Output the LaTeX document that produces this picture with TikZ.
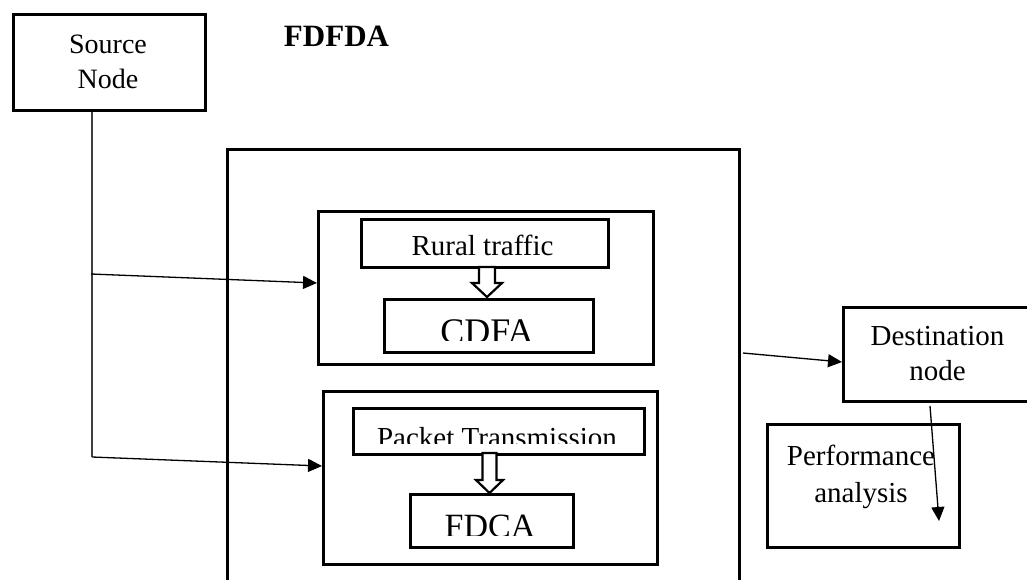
\documentclass[tikz,border=0pt]{standalone}
\usepackage{fontspec}
\setmainfont{Liberation Serif}
\usetikzlibrary{arrows.meta,calc}
\tikzset{
  box/.style={draw, line width=2.6pt, anchor=north west, inner sep=0pt},
  lbl/.style={anchor=base, inner sep=0pt, font=\fontsize{29}{34}\selectfont},
  big/.style={anchor=base, inner sep=0pt, font=\fontsize{36}{42}\selectfont},
  conn/.style={line width=1.3pt, -{Triangle[length=14pt,width=13pt]}},
  feed/.style={line width=1.4pt, draw=black!75},
  blockarrow/.style={draw, line width=2.2pt, fill=white, line join=miter},
}
\begin{document}
\begin{tikzpicture}[x=1pt,y=-1pt]
\useasboundingbox (0,0) rectangle (1027,579);
\clip (0,0) rectangle (1027,579);

% source
\node[box, minimum width=192pt, minimum height=96pt] (src) at (12,13) {};
\node[lbl, font=\fontsize{28}{33}\selectfont] (srcA) at (108,53) {Source};
\node[lbl, font=\fontsize{28}{33}\selectfont] (srcB) at (108,88) {Node};

% title
\node[anchor=base, inner sep=0pt, font=\fontsize{31}{36}\selectfont\bfseries] (title) at (336.5,46) {FDFDA};

% outer frame (runs past the lower edge)
\node[box, minimum width=512pt, minimum height=460pt] (frame) at (226,148) {};

% upper group
\node[box, minimum width=335pt, minimum height=153pt] (grpA) at (317,210) {};
\node[box, minimum width=247pt, minimum height=48pt] (rural) at (360,218) {};
\node[lbl] (ruralt) at (482.5,255) {Rural traffic};
\node[box, minimum width=209pt, minimum height=53pt] (cdfa) at (383,298) {};
\begin{scope}
  \clip (383,298) rectangle (592,340);
  \node[big] (cdfat) at (487,343) {CDFA};
\end{scope}
\draw[blockarrow] (479,267) -- (479,283) -- (472,283) -- (487,297) -- (502,283) -- (495,283) -- (495,267) -- cycle;

% lower group
\node[box, minimum width=334pt, minimum height=173pt] (grpB) at (322,390) {};
\node[box, minimum width=291pt, minimum height=46pt] (pkt) at (352,407) {};
\begin{scope}
  \clip (352,407) rectangle (643,443.5);
  \node[lbl] (pktt) at (497,447) {Packet Transmission};
\end{scope}
\node[box, minimum width=163pt, minimum height=53pt] (fdca) at (409,493) {};
\begin{scope}
  \clip (409,493) rectangle (572,535);
  \node[big, font=\fontsize{34}{40}\selectfont] (fdcat) at (490,537) {FDCA};
\end{scope}
\draw[blockarrow] (482.5,453) -- (482.5,480) -- (476,480) -- (489.5,493) -- (503,480) -- (496.5,480) -- (496.5,453) -- cycle;

% destination and performance
\node[box, minimum width=190pt, minimum height=94pt] (dst) at (842,306) {};
\node[lbl] (dstA) at (937.5,345) {Destination};
\node[lbl] (dstB) at (937.5,380) {node};
\node[box, minimum width=192pt, minimum height=123pt] (perf) at (766,423) {};
\node[lbl] (perfA) at (861,465) {Performance};
\node[lbl] (perfB) at (861,502) {analysis};

% connectors
\coordinate (tapA) at (91,274);
\coordinate (tapB) at (92,457);
\draw[feed] (src.south -| tapB) -- (tapB);
\draw[conn] (tapA) -- (grpA.west |- 0,283);
\draw[conn] (tapB) -- (grpB.west |- 0,466);
\coordinate (outA) at (743,353);
\draw[conn] (outA) -- (dst.west |- 0,362);
\coordinate (dstOut) at (930,406);
\draw[conn] (dstOut) -- (939,521);
\end{tikzpicture}
\end{document}
